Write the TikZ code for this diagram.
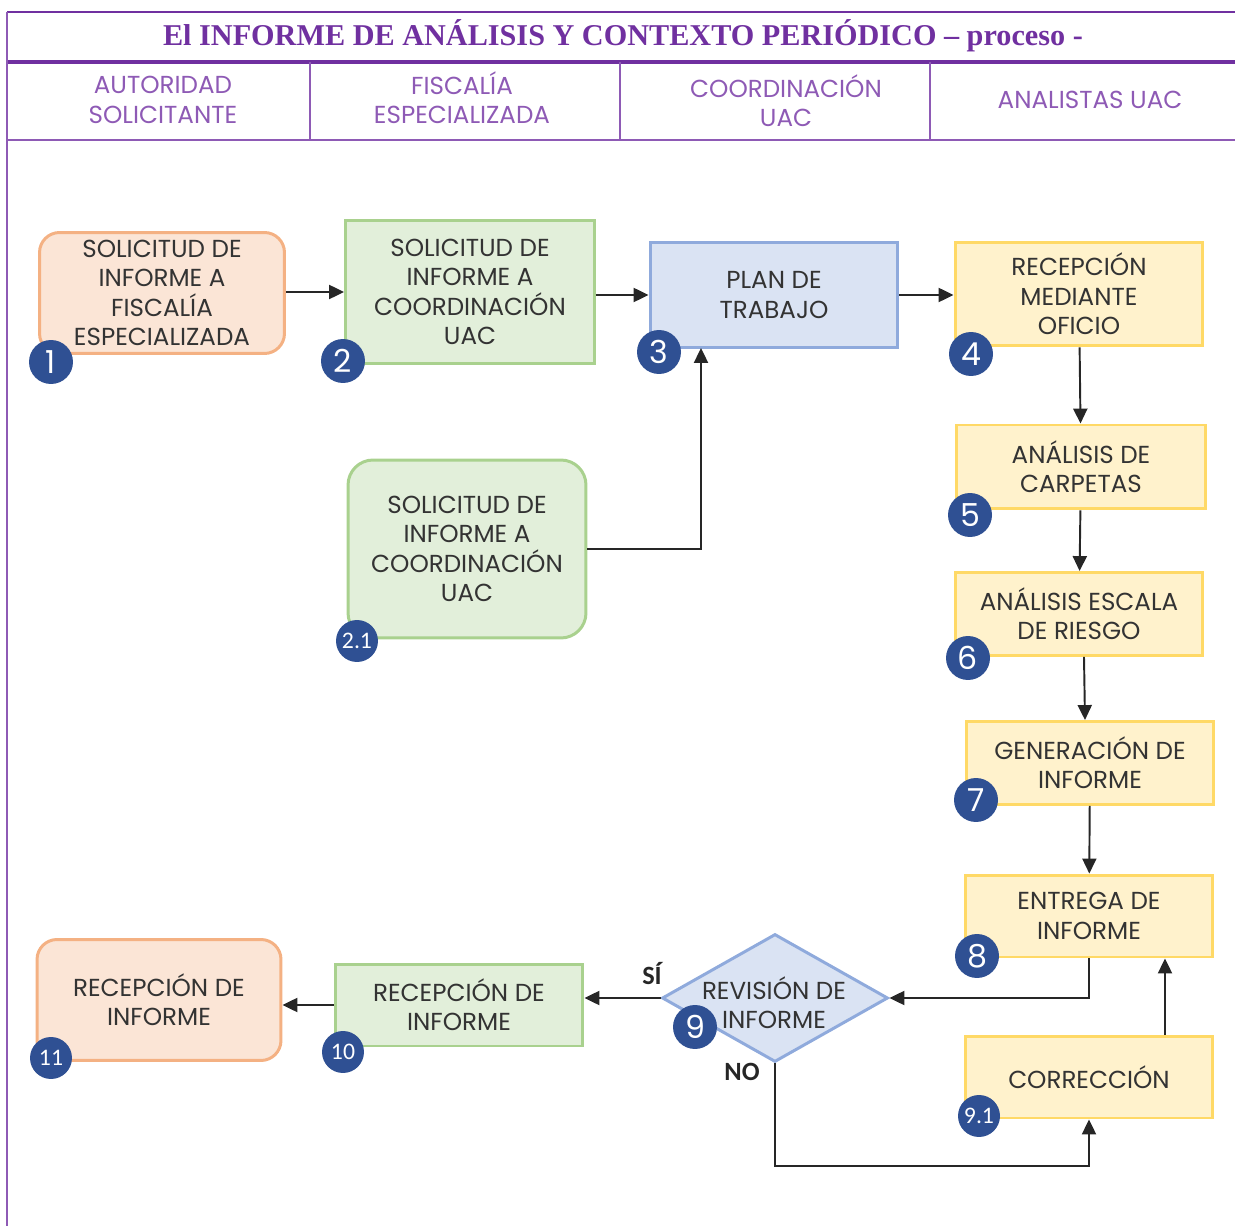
\documentclass[tikz,border=0pt]{standalone}
\usepackage{fontspec}
\setmainfont{Poppins}
\newfontfamily\titlefont{Liberation Serif}
\newfontfamily\numfont{Carlito}
\usetikzlibrary{arrows.meta,shapes.geometric}

\definecolor{lila}{HTML}{7030A0}
\definecolor{lilaline}{HTML}{8E5AB5}
\definecolor{naranjafill}{HTML}{FBE5D6}
\definecolor{naranjaline}{HTML}{F4B183}
\definecolor{verdefill}{HTML}{E2EFDA}
\definecolor{verdeline}{HTML}{A9D18E}
\definecolor{azulfill}{HTML}{DAE3F3}
\definecolor{azulline}{HTML}{8FAADC}
\definecolor{amarillofill}{HTML}{FFF2CC}
\definecolor{amarilloline}{HTML}{FFD966}
\definecolor{marino}{HTML}{2F5093}
\definecolor{texto}{HTML}{333333}

\tikzset{
  caja/.style={draw, line width=1.7pt, inner sep=0pt, align=center,
    text=texto, font=\fontsize{14}{16.7}\selectfont},
  naranja/.style={caja, fill=naranjafill, draw=naranjaline, rounded corners=0.4cm},
  verde/.style={caja, fill=verdefill, draw=verdeline},
  azul/.style={caja, fill=azulfill, draw=azulline},
  amarillo/.style={caja, fill=amarillofill, draw=amarilloline},
  paso/.style={circle, fill=marino, text=white, inner sep=0pt,
    minimum size=0.88cm, font=\fontsize{18}{18}\selectfont},
  subpaso/.style={paso, minimum size=0.84cm, font=\numfont\fontsize{13.5}{13.5}\selectfont},
  carril/.style={text=lilaline, align=center, font=\fontsize{14}{16.7}\selectfont},
  arr/.style={draw=black!85, line width=1.1pt, -{Triangle[length=8.5pt,width=8pt]}},
  rama/.style={font=\numfont\bfseries\fontsize{15}{15}\selectfont, text=black!85}
}

\begin{document}
\begin{tikzpicture}[x=0.02cm,y=-0.02cm]
    \useasboundingbox (0,0) rectangle (1235,1226);

    % marco y carriles
    \draw[lila, line width=1.6pt] (7,12) -- (1235,12);
    \draw[lila, line width=2pt] (7,62) -- (1235,62);
    \draw[lilaline, line width=0.9pt] (7,12) -- (7,1226);
    \draw[lilaline, line width=1pt] (7,140) -- (1235,140);
    \foreach \x in {310,620,930}
        \draw[lilaline, line width=0.9pt] (\x,62) -- (\x,140);

    \node[text=lila, font=\titlefont\bfseries\fontsize{17.2}{20}\selectfont] (titulo) at (623,36)
        {El INFORME DE ANÁLISIS Y CONTEXTO PERIÓDICO – proceso -};
    \node[carril] (hdA) at (163,100) {AUTORIDAD\\SOLICITANTE};
    \node[carril] (hdB) at (462,98) {FISCALÍA\\ESPECIALIZADA};
    \node[carril] (hdC) at (786,101) {COORDINACIÓN\\UAC};
    \node[carril] (hdD) at (1090,100) {ANALISTAS UAC};

    % pasos
    \node[naranja, minimum width=4.9cm, minimum height=2.42cm] (s1) at (162,293)
        {SOLICITUD DE\\INFORME A\\FISCALÍA\\ESPECIALIZADA};
    \node[verde, minimum width=4.98cm, minimum height=2.86cm] (s2) at (470,292)
        {SOLICITUD DE\\INFORME A\\COORDINACIÓN\\UAC};
    \node[azul, minimum width=4.96cm, minimum height=2.1cm] (s3) at (774,295)
        {PLAN DE\\TRABAJO};
    \node[amarillo, minimum width=4.96cm, minimum height=2.08cm] (s4) at (1079,294)
        {RECEPCIÓN\\MEDIANTE\\OFICIO};
    \node[verde, rounded corners=0.5cm, minimum width=4.76cm, minimum height=3.56cm] (s21) at (467,549)
        {SOLICITUD DE\\INFORME A\\COORDINACIÓN\\UAC};
    \node[amarillo, minimum width=4.98cm, minimum height=1.68cm] (s5) at (1081,467)
        {ANÁLISIS DE\\CARPETAS};
    \node[amarillo, minimum width=4.96cm, minimum height=1.66cm] (s6) at (1079,614)
        {ANÁLISIS ESCALA\\DE RIESGO};
    \node[amarillo, minimum width=4.96cm, minimum height=1.66cm] (s7) at (1090,763)
        {GENERACIÓN DE\\INFORME};
    \node[amarillo, minimum width=4.96cm, minimum height=1.64cm] (s8) at (1089,916)
        {ENTREGA DE\\INFORME};
    \node[diamond, caja, fill=azulfill, draw=azulline, minimum width=4.52cm, minimum height=2.56cm] (s9) at (775,998)
        {};
    \node[caja, draw=none, fill=none] (s9txt) at (774,1003) {REVISIÓN DE\\INFORME};
    \node[amarillo, minimum width=4.96cm, minimum height=1.64cm] (s91) at (1089,1077)
        {CORRECCIÓN};
    \node[verde, minimum width=4.96cm, minimum height=1.64cm] (s10) at (459,1005)
        {RECEPCIÓN DE\\INFORME};
    \node[naranja, minimum width=4.88cm, minimum height=2.42cm] (s11) at (159,1000)
        {RECEPCIÓN DE\\INFORME};

    % numeros
    \node[paso] (n1) at (51,362) {1};
    \node[paso] (n2) at (343,361) {2};
    \node[paso] (n3) at (659,352) {3};
    \node[paso] (n4) at (971,354) {4};
    \node[subpaso] (n21) at (357,641) {2.1};
    \node[paso] (n5) at (970,515) {5};
    \node[paso] (n6) at (968,658) {6};
    \node[paso] (n7) at (976,800) {7};
    \node[paso] (n8) at (977,956) {8};
    \node[paso] (n9) at (695,1027) {9};
    \node[subpaso] (n91) at (979,1116) {9.1};
    \node[subpaso] (n10) at (343,1052) {10};
    \node[subpaso] (n11) at (51,1058) {11};

    \node[rama] (si) at (652,974) {SÍ};
    \node[rama] (no) at (742,1072) {NO};

    % flechas
    \coordinate (entrada3) at (701,348);
    \coordinate (vuelta9) at (775,1166);
    \coordinate (ejecorr) at (1165,0);

    \path (s1.east |- s2.west) edge[arr] (s2.west);
    \path (s2.east |- s3.west) edge[arr] (s3.west);
    \path (s3.east) edge[arr] (s4.west |- s3.east);
    \draw[arr] (s21.east) -| (entrada3);
    \path (s4) edge[arr] (s5);
    \path (s5) edge[arr] (s6);
    \path ([xshift=0.1cm]s6.south) edge[arr] ([xshift=-0.1cm]s7.north);
    \path (s7) edge[arr] (s8);
    \draw[arr] (s8.south) |- (s9.east);
    \path (s9.west) edge[arr] (s10.east |- s9.west);
    \draw[arr] (s9.south) -- (vuelta9) -| (s91.south);
    \path (s91.north -| ejecorr) edge[arr] (s8.south -| ejecorr);
    \path (s10.west) edge[arr] (s11.east |- s10.west);
\end{tikzpicture}
\end{document}
